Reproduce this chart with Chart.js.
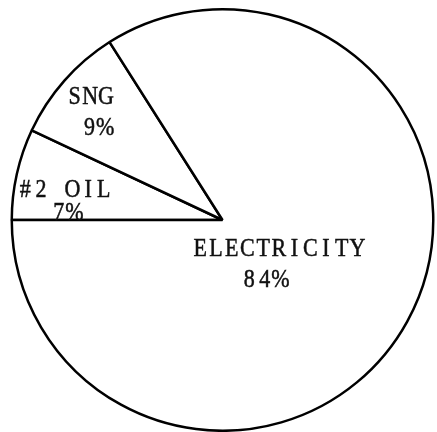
<!DOCTYPE html>
<html lang="en">
<head>
  <meta charset="UTF-8">
  <title>Energy Share Pie</title>
  <script src="https://cdn.jsdelivr.net/npm/chart.js"></script>
  <style>
    html, body { margin: 0; padding: 0; background: #fff; }
    .wrap { width: 437px; height: 432px; }
  </style>
</head>
<body>
<div class="wrap">
  <canvas id="chart" width="437" height="432"></canvas>
</div>
<script>
  // slices go clockwise starting at 9 o'clock
  const sliceNames = ['#2 OIL', 'SNG', 'ELECTRICITY'];
  const sliceShares = [7, 9, 84];

  // where the typed text sits inside each slice (fraction of radius, angle nudge in deg,
  // gap between the two lines, sideways shift of each line)
  const labelSpots = [
    { frac: 0.75, nudge: -5.9, gap: 23, shift: [-1, 1] },
    { frac: 0.794, nudge: -1.7, gap: 31, shift: [-3.5, 3.5] },
    { frac: 0.318, nudge: 13.8, gap: 31, shift: [7, -7] }
  ];

  const CELL = 15.7;   // typewriter pitch
  const SQUEEZE = 0.88; // typewriter caps are a bit narrower than Times

  // type a line char by char on a fixed pitch, centred on x
  function typeLine(ctx, txt, x, y) {
    const start = x - txt.length * CELL / 2;
    for (let k = 0; k < txt.length; k++) {
      ctx.save();
      ctx.translate(start + (k + 0.5) * CELL, y);
      ctx.scale(SQUEEZE, 1);
      ctx.fillText(txt[k], 0, 0);
      ctx.strokeText(txt[k], 0, 0);
      ctx.restore();
    }
  }

  const typedLabels = {
    id: 'typedLabels',
    afterDatasetsDraw(chart) {
      const ctx = chart.ctx;
      const meta = chart.getDatasetMeta(0);
      ctx.save();
      ctx.fillStyle = '#111';
      ctx.strokeStyle = '#111';
      ctx.lineWidth = 0.5;
      ctx.font = '25px "Liberation Serif", serif';
      ctx.textAlign = 'center';
      ctx.textBaseline = 'middle';
      meta.data.forEach((arc, i) => {
        const p = arc.getProps(['x', 'y', 'startAngle', 'endAngle', 'outerRadius'], true);
        const spot = labelSpots[i];
        const mid = (p.startAngle + p.endAngle) / 2 + spot.nudge * Math.PI / 180;
        const r = p.outerRadius * spot.frac;
        const cx = p.x + Math.cos(mid) * r;
        const cy = p.y + Math.sin(mid) * r;
        const lines = [sliceNames[i], sliceShares[i] + '%'];
        lines.forEach((txt, j) => {
          typeLine(ctx, txt, cx + spot.shift[j], cy + (j - 0.5) * spot.gap);
        });
      });
      ctx.restore();
    }
  };

  new Chart(document.getElementById('chart'), {
    type: 'pie',
    data: {
      labels: sliceNames,
      datasets: [{
        data: sliceShares,
        backgroundColor: '#fff',
        borderColor: '#000',
        borderWidth: 2.5
      }]
    },
    options: {
      responsive: false,
      animation: false,
      rotation: 270,
      layout: { padding: { left: 8, top: 8, right: 0, bottom: 0 } },
      plugins: {
        legend: { display: false },
        tooltip: { enabled: false }
      }
    },
    plugins: [typedLabels]
  });
</script>
</body>
</html>
